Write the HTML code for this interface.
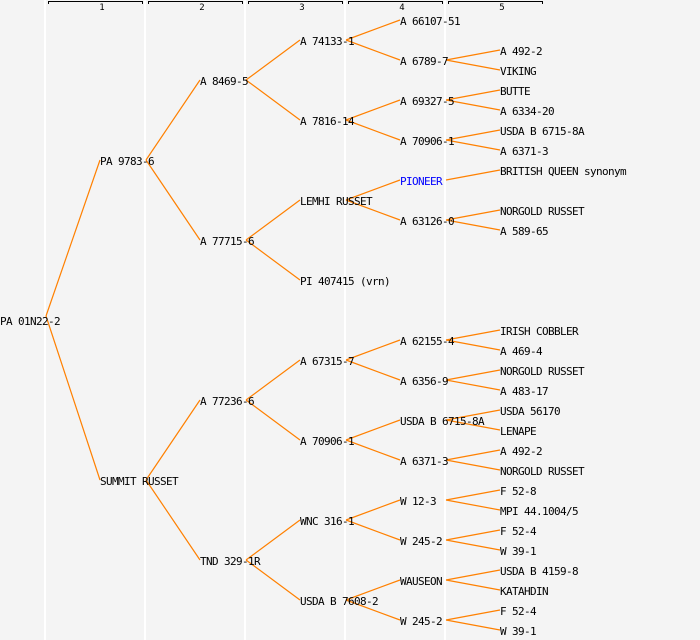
<!DOCTYPE html>
<html><head><meta charset="utf-8"><style>
html,body{margin:0;padding:0;background:#f4f4f4;}
svg{display:block;}
text{font-family:"DejaVu Sans Mono","Liberation Mono",monospace;font-size:11px;letter-spacing:-0.62px;fill:#000;}
.h{font-size:9px;letter-spacing:0;}
line.e{stroke:#ff8000;stroke-width:1.2;}
</style></head><body>
<svg width="700" height="640" xmlns="http://www.w3.org/2000/svg">
<rect width="700" height="640" fill="#f4f4f4"/>
<g stroke="#fff" stroke-width="2">
<line x1="45" y1="0" x2="45" y2="640"/><line x1="145" y1="0" x2="145" y2="640"/>
<line x1="245" y1="0" x2="245" y2="640"/><line x1="345" y1="0" x2="345" y2="640"/>
<line x1="445" y1="0" x2="445" y2="640"/>
</g>
<g stroke="#000" stroke-width="1" fill="none">
<path d="M48.5,4V1.5H142.5V4"/><path d="M148.5,4V1.5H242.5V4"/><path d="M248.5,4V1.5H342.5V4"/>
<path d="M348.5,4V1.5H442.5V4"/><path d="M448.5,4V1.5H542.5V4"/>
</g>
<g text-anchor="middle">
<text class="h" x="102" y="10">1</text><text class="h" x="202" y="10">2</text><text class="h" x="302" y="10">3</text>
<text class="h" x="402" y="10">4</text><text class="h" x="502" y="10">5</text>
</g>
<g class="edges">
<line class="e" x1="46" y1="316" x2="100" y2="160"/>
<line class="e" x1="46" y1="316" x2="100" y2="480"/>
<line class="e" x1="146" y1="160" x2="200" y2="80"/>
<line class="e" x1="146" y1="160" x2="200" y2="240"/>
<line class="e" x1="146" y1="480" x2="200" y2="400"/>
<line class="e" x1="146" y1="480" x2="200" y2="560"/>
<line class="e" x1="246" y1="80" x2="300" y2="40"/>
<line class="e" x1="246" y1="80" x2="300" y2="120"/>
<line class="e" x1="246" y1="240" x2="300" y2="200"/>
<line class="e" x1="246" y1="240" x2="300" y2="280"/>
<line class="e" x1="246" y1="400" x2="300" y2="360"/>
<line class="e" x1="246" y1="400" x2="300" y2="440"/>
<line class="e" x1="246" y1="560" x2="300" y2="520"/>
<line class="e" x1="246" y1="560" x2="300" y2="600"/>
<line class="e" x1="346" y1="40" x2="400" y2="20"/>
<line class="e" x1="346" y1="40" x2="400" y2="60"/>
<line class="e" x1="346" y1="120" x2="400" y2="100"/>
<line class="e" x1="346" y1="120" x2="400" y2="140"/>
<line class="e" x1="346" y1="200" x2="400" y2="180"/>
<line class="e" x1="346" y1="200" x2="400" y2="220"/>
<line class="e" x1="346" y1="360" x2="400" y2="340"/>
<line class="e" x1="346" y1="360" x2="400" y2="380"/>
<line class="e" x1="346" y1="440" x2="400" y2="420"/>
<line class="e" x1="346" y1="440" x2="400" y2="460"/>
<line class="e" x1="346" y1="520" x2="400" y2="500"/>
<line class="e" x1="346" y1="520" x2="400" y2="540"/>
<line class="e" x1="346" y1="600" x2="400" y2="580"/>
<line class="e" x1="346" y1="600" x2="400" y2="620"/>
<line class="e" x1="446" y1="60" x2="500" y2="50"/>
<line class="e" x1="446" y1="60" x2="500" y2="70"/>
<line class="e" x1="446" y1="100" x2="500" y2="90"/>
<line class="e" x1="446" y1="100" x2="500" y2="110"/>
<line class="e" x1="446" y1="140" x2="500" y2="130"/>
<line class="e" x1="446" y1="140" x2="500" y2="150"/>
<line class="e" x1="446" y1="180" x2="500" y2="170"/>
<line class="e" x1="446" y1="220" x2="500" y2="210"/>
<line class="e" x1="446" y1="220" x2="500" y2="230"/>
<line class="e" x1="446" y1="340" x2="500" y2="330"/>
<line class="e" x1="446" y1="340" x2="500" y2="350"/>
<line class="e" x1="446" y1="380" x2="500" y2="370"/>
<line class="e" x1="446" y1="380" x2="500" y2="390"/>
<line class="e" x1="446" y1="420" x2="500" y2="410"/>
<line class="e" x1="446" y1="420" x2="500" y2="430"/>
<line class="e" x1="446" y1="460" x2="500" y2="450"/>
<line class="e" x1="446" y1="460" x2="500" y2="470"/>
<line class="e" x1="446" y1="500" x2="500" y2="490"/>
<line class="e" x1="446" y1="500" x2="500" y2="510"/>
<line class="e" x1="446" y1="540" x2="500" y2="530"/>
<line class="e" x1="446" y1="540" x2="500" y2="550"/>
<line class="e" x1="446" y1="580" x2="500" y2="570"/>
<line class="e" x1="446" y1="580" x2="500" y2="590"/>
<line class="e" x1="446" y1="620" x2="500" y2="610"/>
<line class="e" x1="446" y1="620" x2="500" y2="630"/>
</g>
<g transform="translate(0,-2)">
<text x="0" y="327">PA 01N22-2</text>
<text x="100" y="167">PA 9783-6</text>
<text x="100" y="487">SUMMIT RUSSET</text>
<text x="200" y="87">A 8469-5</text>
<text x="200" y="247">A 77715-6</text>
<text x="200" y="407">A 77236-6</text>
<text x="200" y="567">TND 329-1R</text>
<text x="300" y="47">A 74133-1</text>
<text x="300" y="127">A 7816-14</text>
<text x="300" y="207">LEMHI RUSSET</text>
<text x="300" y="287">PI 407415 (vrn)</text>
<text x="300" y="367">A 67315-7</text>
<text x="300" y="447">A 70906-1</text>
<text x="300" y="527">WNC 316-1</text>
<text x="300" y="607">USDA B 7608-2</text>
<text x="400" y="27">A 66107-51</text>
<text x="400" y="67">A 6789-7</text>
<text x="400" y="107">A 69327-5</text>
<text x="400" y="147">A 70906-1</text>
<text x="400" y="187" style="fill:#0000ff">PIONEER</text>
<text x="400" y="227">A 63126-0</text>
<text x="400" y="347">A 62155-4</text>
<text x="400" y="387">A 6356-9</text>
<text x="400" y="427">USDA B 6715-8A</text>
<text x="400" y="467">A 6371-3</text>
<text x="400" y="507">W 12-3</text>
<text x="400" y="547">W 245-2</text>
<text x="400" y="587">WAUSEON</text>
<text x="400" y="627">W 245-2</text>
<text x="500" y="57">A 492-2</text>
<text x="500" y="77">VIKING</text>
<text x="500" y="97">BUTTE</text>
<text x="500" y="117">A 6334-20</text>
<text x="500" y="137">USDA B 6715-8A</text>
<text x="500" y="157">A 6371-3</text>
<text x="500" y="177">BRITISH QUEEN synonym</text>
<text x="500" y="217">NORGOLD RUSSET</text>
<text x="500" y="237">A 589-65</text>
<text x="500" y="337">IRISH COBBLER</text>
<text x="500" y="357">A 469-4</text>
<text x="500" y="377">NORGOLD RUSSET</text>
<text x="500" y="397">A 483-17</text>
<text x="500" y="417">USDA 56170</text>
<text x="500" y="437">LENAPE</text>
<text x="500" y="457">A 492-2</text>
<text x="500" y="477">NORGOLD RUSSET</text>
<text x="500" y="497">F 52-8</text>
<text x="500" y="517">MPI 44.1004/5</text>
<text x="500" y="537">F 52-4</text>
<text x="500" y="557">W 39-1</text>
<text x="500" y="577">USDA B 4159-8</text>
<text x="500" y="597">KATAHDIN</text>
<text x="500" y="617">F 52-4</text>
<text x="500" y="637">W 39-1</text>
</g>
</svg>
</body></html>
